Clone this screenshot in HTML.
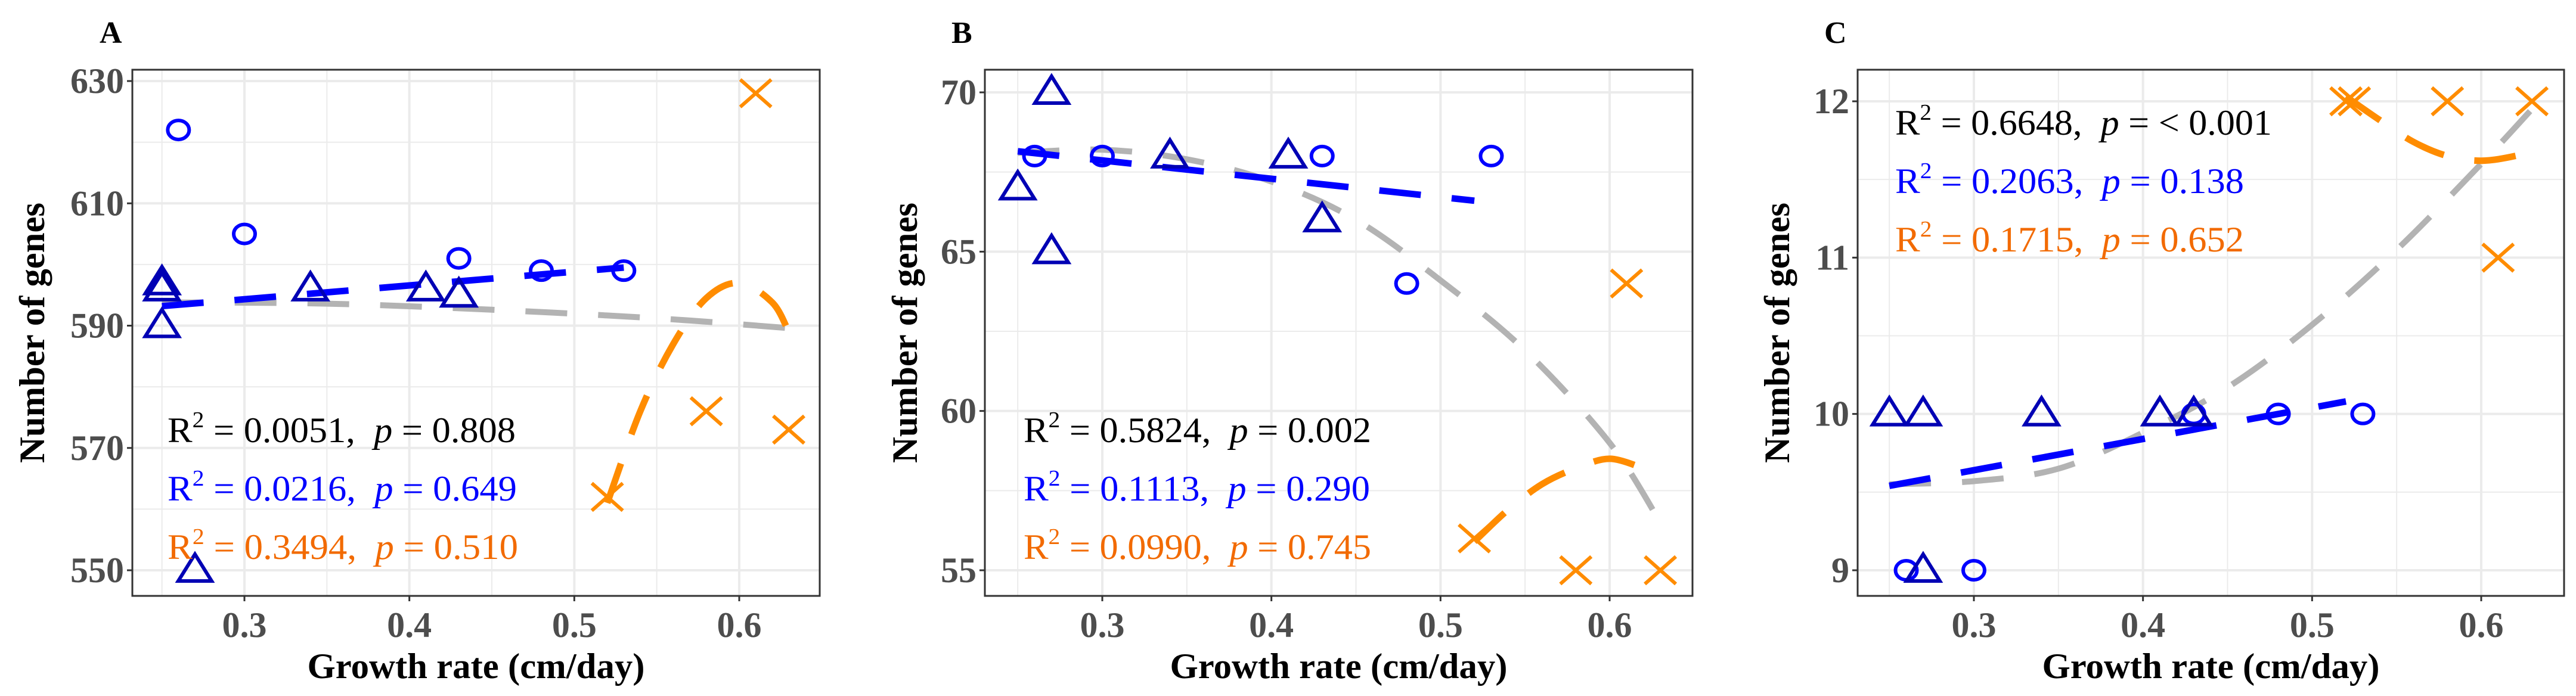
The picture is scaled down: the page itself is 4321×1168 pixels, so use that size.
<!DOCTYPE html>
<html><head><meta charset="utf-8"><style>
html,body{margin:0;padding:0;background:#fff;}
svg{display:block;font-family:"Liberation Serif",serif;}
</style></head><body>
<svg id="fig" width="4321" height="1168" viewBox="0 0 4321 1168" xmlns="http://www.w3.org/2000/svg"></svg>
<script>
// ---------- Panel A data ----------
const aCircX=[0.26,0.30,0.43,0.48,0.53];
const aCircY=[622,605,601,599,599];
const aTriX=[0.25,0.25,0.25,0.27,0.34,0.41,0.43];
const aTriY=[597,596,590,550,596,596,595];
const aCrossX=[0.52,0.58,0.61,0.63];
const aCrossY=[562,576,628,573];
const aGrayX=[0.25,0.35,0.45,0.55,0.63];
const aGrayY=[593.8,593.6,592.6,591.2,589.6];
const aBlueX=[0.25,0.53];
const aBlueY=[593.2,599.5];
const aOrangeX=[0.52,0.54,0.56,0.58,0.60,0.62,0.63];
const aOrangeY=[561,576,587,594.5,597,593.8,589];
const aYTicks=[550,570,590,610,630];
const aStats=[["0.0051","0.808"],["0.0216","0.649"],["0.3494","0.510"]];
// ---------- Panel B data ----------
const bCircX=[0.26,0.30,0.43,0.48,0.53];
const bCircY=[68,68,68,64,68];
const bTriX=[0.25,0.27,0.27,0.34,0.41,0.43];
const bTriY=[67,70,65,68,68,66];
const bCrossX=[0.52,0.58,0.61,0.63];
const bCrossY=[56,55,64,55];
const bGrayX=[0.25,0.30,0.35,0.40,0.45,0.50,0.55,0.60,0.63];
const bGrayY=[68.1,68.2,67.9,67.2,66.0,64.1,61.9,59.0,56.5];
const bBlueX=[0.25,0.52];
const bBlueY=[68.15,66.6];
const bOrangeX=[0.52,0.54,0.56,0.58,0.60,0.62];
const bOrangeY=[55.9,56.9,57.7,58.2,58.5,58.2];
const bYTicks=[55,60,65,70];
const bStats=[["0.5824","0.002"],["0.1113","0.290"],["0.0990","0.745"]];
// ---------- Panel C data ----------
const cCircX=[0.26,0.30,0.43,0.48,0.53];
const cCircY=[9,9,10,10,10];
const cTriX=[0.25,0.27,0.34,0.41,0.43,0.27];
const cTriY=[10,10,10,10,10,9];
const cCrossX=[0.52,0.525,0.58,0.61,0.63];
const cCrossY=[12,12,12,11,12];
const cGrayX=[0.25,0.30,0.35,0.40,0.45,0.50,0.55,0.60,0.63];
const cGrayY=[9.55,9.57,9.65,9.88,10.17,10.57,11.05,11.6,11.95];
const cBlueX=[0.25,0.52];
const cBlueY=[9.54,10.08];
const cOrangeX=[0.52,0.54,0.56,0.58,0.60,0.62,0.63];
const cOrangeY=[12.03,11.88,11.74,11.65,11.62,11.65,11.69];
const cYTicks=[9,10,11,12];
const cStats=[["0.6648","< 0.001"],["0.2063","0.138"],["0.1715","0.652"]];
const xTicks=[0.3,0.4,0.5,0.6];
const statColors=["#000000","#0000ff","#f26a00"];

const NS="http://www.w3.org/2000/svg";
const svg=document.getElementById('fig');
function mk(tag,attrs,parent){const e=document.createElementNS(NS,tag);for(const k in attrs)e.setAttribute(k,attrs[k]);(parent||svg).appendChild(e);return e;}

function smoothPath(pts){
  if(pts.length<3) return pts.map((p,i)=>(i?'L':'M')+p[0].toFixed(1)+','+p[1].toFixed(1)).join(' ');
  let d='M'+pts[0][0].toFixed(1)+','+pts[0][1].toFixed(1);
  for(let i=0;i<pts.length-1;i++){
    const p0=pts[i-1]||pts[i],p1=pts[i],p2=pts[i+1],p3=pts[i+2]||p2;
    const c1=[p1[0]+(p2[0]-p0[0])/6,p1[1]+(p2[1]-p0[1])/6];
    const c2=[p2[0]-(p3[0]-p1[0])/6,p2[1]-(p3[1]-p1[1])/6];
    d+=` C${c1[0].toFixed(1)},${c1[1].toFixed(1)} ${c2[0].toFixed(1)},${c2[1].toFixed(1)} ${p2[0].toFixed(1)},${p2[1].toFixed(1)}`;
  }
  return d;
}

function panel(cfg){
  const g=mk('g',{});
  
  
  const sx=v=>cfg.x3+(v-0.3)/0.3*(cfg.x6-cfg.x3);
  const sy=v=>cfg.yLo+(v-cfg.vLo)/(cfg.vHi-cfg.vLo)*(cfg.yHi-cfg.yLo);
  const minorStep=(cfg.yt[1]-cfg.yt[0])/2;
  for(let v=cfg.yt[0]-minorStep;v<=cfg.yt[cfg.yt.length-1]+minorStep;v+=minorStep){
    const y=sy(v); if(y<cfg.top||y>cfg.bottom) continue;
    const major=cfg.yt.some(t=>Math.abs(t-v)<1e-9);
    const l=mk('line',{x1:cfg.left,x2:cfg.right,y1:y,y2:y,stroke:'#ebebeb','stroke-width':major?4:2},g);
    
    
  }
  for(let v=0.25;v<=0.651;v+=0.05){
    const x=sx(v); if(x<cfg.left||x>cfg.right) continue;
    const major=xTicks.some(t=>Math.abs(t-v)<1e-9);
    const l=mk('line',{x1:x,x2:x,y1:cfg.top,y2:cfg.bottom,stroke:'#ebebeb','stroke-width':major?4:2},g);
    
    
  }
  function line(xs,ys,color,w,name){
    const d=smoothPath(xs.map((x,i)=>[sx(x),sy(ys[i])]));
    const p=mk('path',{d:d,fill:'none',stroke:color,'stroke-width':w,'stroke-dasharray':'70 52'},g);
    
    
  }
  line(cfg.gray[0],cfg.gray[1],'#b3b3b3',10,'fit-line-all');
  line(cfg.blue[0],cfg.blue[1],'#0000ff',11,'fit-line-blue');
  line(cfg.orange[0],cfg.orange[1],'#ff8c00',11,'fit-line-orange');
  cfg.circ[0].forEach((x,i)=>{
    const c=mk('ellipse',{cx:sx(x),cy:sy(cfg.circ[1][i]),rx:18,ry:16,fill:'none',stroke:'#0000ff','stroke-width':6},g);
    
    
  });
  cfg.tri[0].forEach((x,i)=>{
    const X=sx(x),Y=sy(cfg.tri[1][i]);
    const t=mk('polygon',{points:`${X-28},${Y+18} ${X+28},${Y+18} ${X},${Y-27}`,fill:'none',stroke:'#0000b4','stroke-width':6},g);
    
    
  });
  cfg.cross[0].forEach((x,i)=>{
    const X=sx(x),Y=sy(cfg.cross[1][i]);
    const p=mk('path',{d:`M${X-26},${Y-23}L${X+26},${Y+23}M${X-26},${Y+23}L${X+26},${Y-23}`,stroke:'#ff8c00','stroke-width':6,fill:'none'},g);
    
    
  });
  const b=mk('rect',{x:cfg.left,y:cfg.top,width:cfg.right-cfg.left,height:cfg.bottom-cfg.top,fill:'none',stroke:'#333','stroke-width':3},g);
  
  
  cfg.yt.forEach(v=>{
    const y=sy(v);
    const tk=mk('line',{x1:cfg.left-9,x2:cfg.left,y1:y,y2:y,stroke:'#333','stroke-width':3},g);
    
    
    const t=mk('text',{x:cfg.left-14,y:y+20,'text-anchor':'end','font-size':60,'font-weight':'bold',fill:'#4d4d4d'},g);
    t.textContent=String(v);
    
    
  });
  xTicks.forEach(v=>{
    const x=sx(v);
    const tk=mk('line',{x1:x,x2:x,y1:cfg.bottom,y2:cfg.bottom+9,stroke:'#333','stroke-width':3},g);
    
    
    const t=mk('text',{x:x,y:1069,'text-anchor':'middle','font-size':60,'font-weight':'bold',fill:'#4d4d4d'},g);
    t.textContent=String(v);
    
    
  });
  const xt=mk('text',{x:(cfg.left+cfg.right)/2,y:1138,'text-anchor':'middle','font-size':60,'font-weight':'bold',fill:'#000',textLength:566,lengthAdjust:'spacingAndGlyphs'},g);
  xt.textContent='Growth rate (cm/day)';
  
  
  const cy=(cfg.top+cfg.bottom)/2;
  const yt=mk('text',{x:cfg.ytx,y:cy,transform:`rotate(-90 ${cfg.ytx} ${cy})`,'text-anchor':'middle','font-size':60,'font-weight':'bold',fill:'#000',textLength:437,lengthAdjust:'spacingAndGlyphs'},g);
  yt.textContent='Number of genes';
  
  
  const L=mk('text',{x:cfg.lx,y:72,'font-size':52,'font-weight':'bold',fill:'#000'},g);
  L.textContent=cfg.letter;
  
  
  cfg.stats.forEach((s,i)=>{
    const t=mk('text',{x:cfg.sx,y:cfg.sy[i],'font-size':60,fill:statColors[i],textLength:cfg.sw[i],lengthAdjust:'spacingAndGlyphs'},g);
    
    
    t.appendChild(document.createTextNode('R'));
    const sup=mk('tspan',{dy:-25,'font-size':38},t); sup.textContent='2';
    const r=mk('tspan',{dy:25},t); r.textContent=' = '+s[0]+',\u00a0\u00a0';
    const p=mk('tspan',{'font-style':'italic'},t); p.textContent='p';
    const r2=mk('tspan',{},t); r2.textContent=' = '+s[1];
  });
}

panel({letter:'A',left:222,right:1375,top:117,bottom:1000,x3:410,x6:1240,vLo:550,vHi:630,yLo:957,yHi:136,yt:aYTicks,
  circ:[aCircX,aCircY],tri:[aTriX,aTriY],cross:[aCrossX,aCrossY],gray:[aGrayX,aGrayY],blue:[aBlueX,aBlueY],orange:[aOrangeX,aOrangeY],
  ytx:74,lx:167,stats:aStats,sx:281,sy:[742,840,938],sw:[584,586,588]});
panel({letter:'B',left:1652,right:2839,top:117,bottom:1000,x3:1849,x6:2700,vLo:55,vHi:70,yLo:957,yHi:155,yt:bYTicks,
  circ:[bCircX,bCircY],tri:[bTriX,bTriY],cross:[bCrossX,bCrossY],gray:[bGrayX,bGrayY],blue:[bBlueX,bBlueY],orange:[bOrangeX,bOrangeY],
  ytx:1538,lx:1596,stats:bStats,sx:1717,sy:[742,840,938],sw:[583,581,583]});
panel({letter:'C',left:3116,right:4301,top:117,bottom:1000,x3:3311,x6:4162,vLo:9,vHi:12,yLo:957,yHi:170,yt:cYTicks,
  circ:[cCircX,cCircY],tri:[cTriX,cTriY],cross:[cCrossX,cCrossY],gray:[cGrayX,cGrayY],blue:[cBlueX,cBlueY],orange:[cOrangeX,cOrangeY],
  ytx:3001,lx:3060,stats:cStats,sx:3179,sy:[226,324,422],sw:[632,585,585]});
</script>
</body></html>
